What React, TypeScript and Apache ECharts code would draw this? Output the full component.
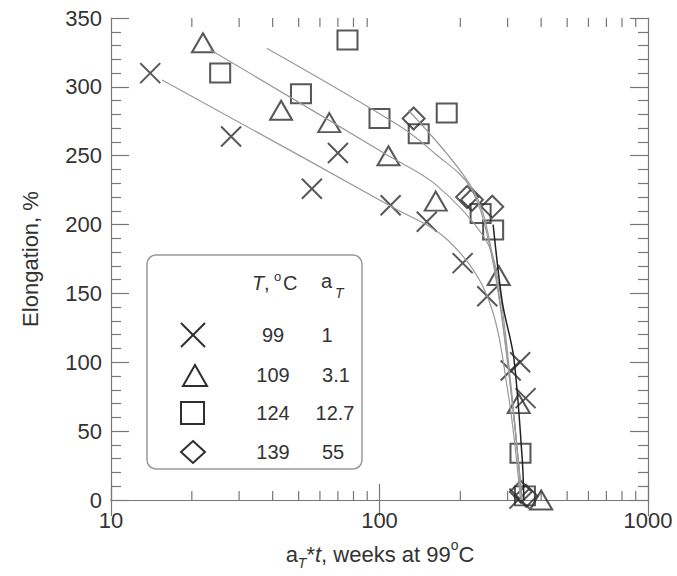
import React, { useEffect, useRef } from 'react';
import * as echarts from 'echarts';

// T = 99 °C (×)
const x99 = [14, 28, 56, 70, 110, 150, 204, 252, 308, 334, 350, 332];
const y99 = [310, 264, 226, 252, 214, 202, 172, 148, 94, 100, 74, 1];
// T = 109 °C (△)
const x109 = [22, 43, 65, 108, 162, 278, 330, 400];
const y109 = [332, 283, 274, 250, 217, 163, 70, 0];
// T = 124 °C (□)
const x124 = [25.5, 51, 76, 100, 140, 178, 238, 265, 335, 348];
const y124 = [310, 295, 334, 277, 266, 281, 208, 196, 34, 3];
// T = 139 °C (◇)
const x139 = [134, 212, 221, 263, 336, 352];
const y139 = [277, 220, 218, 213, 6, 3];

// fitted curves
const fitX99 = [15.5, 111, 179, 252, 300, 335];
const fitY99 = [305, 213, 189, 148, 80, 0];
const fitX109 = [23.4, 108, 162, 245, 275, 310, 338];
const fitY109 = [327, 250, 229, 191, 162, 80, 0];
const fitX124 = [38, 120, 160, 218, 260, 300, 340];
const fitY124 = [328, 271, 252, 227, 180, 100, 0];
const fitX139 = [128, 222, 262, 300, 340];
const fitY139 = [283, 226, 180, 100, 0];
const darkX = [265, 287, 316, 340, 345];
const darkY = [200, 143, 104, 30, 0];

const minorXTicks = [20, 30, 40, 50, 60, 70, 80, 90, 200, 300, 400, 500, 600, 700, 800, 900];

const legendRows = [
  { t: '99', a: '1', aX: 327 },
  { t: '109', a: '3.1', aX: 336 },
  { t: '124', a: '12.7', aX: 335 },
  { t: '139', a: '55', aX: 333 },
];

const zip = (xs: number[], ys: number[]) => xs.map((x, i) => [x, ys[i]]);

const FONT = 'Liberation Sans, Arial, Helvetica, sans-serif';
const MARK = '#2e2e2e';
const AXIS = '#777';
const TXT = '#333';

export default function App() {
  const ref = useRef<HTMLDivElement>(null);
  useEffect(() => {
    if (!ref.current) return;
    const chart = echarts.init(ref.current, undefined, { renderer: 'svg' });
    const markStyle = { color: 'transparent', borderColor: MARK, borderWidth: 2 };
    const fitStyle = { color: '#999', width: 1.2 };
    const grid = { left: 111, right: 29, top: 18, bottom: 76 };

    const xAxisBase = {
      type: 'log' as const,
      logBase: 10,
      min: 10,
      max: 1000,
      axisLine: { show: true, lineStyle: { color: AXIS, width: 1.2 } },
      axisTick: { show: true, inside: true, length: 16, lineStyle: { color: AXIS, width: 1.2 } },
      splitLine: { show: false },
      minorTick: { show: false },
    };
    const yAxisBase = {
      type: 'value' as const,
      min: 0,
      max: 350,
      interval: 50,
      axisLine: { show: true, lineStyle: { color: AXIS, width: 1.2 } },
      axisTick: { show: true, inside: true, length: 18, lineStyle: { color: AXIS, width: 1.2 } },
      minorTick: { show: true, splitNumber: 5, length: 10, lineStyle: { color: AXIS, width: 1.2 } },
      splitLine: { show: false },
    };

    const legendChildren: any[] = [
      {
        type: 'rect',
        shape: { x: 147, y: 255, width: 215, height: 214, r: 9 },
        style: { fill: 'none', stroke: '#999', lineWidth: 1.5 },
      },
      // header
      { type: 'text', x: 252, y: 283, style: { text: 'T', font: `italic 20px ${FONT}`, fill: TXT, verticalAlign: 'middle' } },
      { type: 'text', x: 264, y: 283, style: { text: ',', font: `20px ${FONT}`, fill: TXT, verticalAlign: 'middle' } },
      { type: 'text', x: 274, y: 276, style: { text: 'o', font: `13px ${FONT}`, fill: TXT, verticalAlign: 'middle' } },
      { type: 'text', x: 283, y: 283, style: { text: 'C', font: `20px ${FONT}`, fill: TXT, verticalAlign: 'middle' } },
      { type: 'text', x: 321, y: 281, style: { text: 'a', font: `20px ${FONT}`, fill: TXT, verticalAlign: 'middle' } },
      { type: 'text', x: 335, y: 293, style: { text: 'T', font: `italic 14px ${FONT}`, fill: TXT, verticalAlign: 'middle' } },
      // symbols
      { type: 'line', shape: { x1: 181, y1: 323, x2: 205, y2: 347 }, style: { stroke: MARK, lineWidth: 2 } },
      { type: 'line', shape: { x1: 205, y1: 323, x2: 181, y2: 347 }, style: { stroke: MARK, lineWidth: 2 } },
      { type: 'polygon', shape: { points: [[183, 386], [207, 386], [195, 365]] }, style: { fill: 'none', stroke: MARK, lineWidth: 2 } },
      { type: 'rect', shape: { x: 181, y: 402, width: 23, height: 22 }, style: { fill: 'none', stroke: MARK, lineWidth: 2 } },
      { type: 'polygon', shape: { points: [[193, 441], [205, 452], [193, 463], [181, 452]] }, style: { fill: 'none', stroke: MARK, lineWidth: 2 } },
    ];
    const rowY = [335, 375, 413, 452];
    legendRows.forEach((r, i) => {
      legendChildren.push({
        type: 'text', x: 273, y: rowY[i],
        style: { text: r.t, font: `20px ${FONT}`, fill: TXT, align: 'center', verticalAlign: 'middle' },
      });
      legendChildren.push({
        type: 'text', x: r.aX, y: rowY[i],
        style: { text: r.a, font: `20px ${FONT}`, fill: TXT, align: 'center', verticalAlign: 'middle' },
      });
    });

    chart.setOption({
      animation: false,
      backgroundColor: '#fff',
      grid,
      xAxis: [
        {
          ...xAxisBase,
          position: 'bottom',
          axisLabel: {
            show: true, fontSize: 22, color: TXT, fontFamily: FONT, margin: 9,
            formatter: (v: number) => String(Math.round(v)),
          },
        },
        { ...xAxisBase, position: 'top', axisLabel: { show: false } },
      ],
      yAxis: [
        {
          ...yAxisBase,
          position: 'left',
          axisLabel: { show: true, fontSize: 22, color: TXT, fontFamily: FONT, margin: 9 },
        },
        { ...yAxisBase, position: 'right', axisLabel: { show: false } },
      ],
      graphic: [
        {
          type: 'text',
          x: 30,
          y: 259,
          rotation: Math.PI / 2,
          style: { text: 'Elongation, %', font: `22px ${FONT}`, fill: TXT, align: 'center', verticalAlign: 'middle' },
        },
        {
          type: 'text',
          x: 380,
          y: 554,
          style: {
            text: 'a{sub|T}*{it|t}, weeks at 99{sup|o}C',
            fontSize: 22,
            fontFamily: FONT,
            fill: TXT,
            align: 'center',
            verticalAlign: 'middle',
            lineHeight: 32,
            rich: {
              sub: { fontSize: 14, fontStyle: 'italic', verticalAlign: 'bottom', lineHeight: 14, fill: TXT, fontFamily: FONT },
              sup: { fontSize: 14, verticalAlign: 'top', lineHeight: 14, fill: TXT, fontFamily: FONT },
              it: { fontSize: 22, fontStyle: 'italic', lineHeight: 32, fill: TXT, fontFamily: FONT },
            },
          },
        },
        { type: 'group', children: legendChildren },
      ],
      series: [
        {
          type: 'custom',
          xAxisIndex: 0,
          yAxisIndex: 0,
          silent: true,
          clip: false,
          data: minorXTicks.map((v) => [v, 0]),
          renderItem: (params: any, api: any) => {
            const v = api.value(0);
            const b = api.coord([v, 0]);
            const t = api.coord([v, 350]);
            const st = { stroke: AXIS, lineWidth: 1.2 };
            return {
              type: 'group',
              children: [
                { type: 'line', shape: { x1: b[0], y1: b[1], x2: b[0], y2: b[1] - 9 }, style: st },
                { type: 'line', shape: { x1: t[0], y1: t[1], x2: t[0], y2: t[1] + 9 }, style: st },
              ],
            };
          },
        },
        { type: 'line', smooth: 0.35, showSymbol: false, data: zip(fitX99, fitY99), lineStyle: fitStyle, silent: true },
        { type: 'line', smooth: 0.35, showSymbol: false, data: zip(fitX109, fitY109), lineStyle: fitStyle, silent: true },
        { type: 'line', smooth: 0.35, showSymbol: false, data: zip(fitX124, fitY124), lineStyle: fitStyle, silent: true },
        { type: 'line', smooth: 0.35, showSymbol: false, data: zip(fitX139, fitY139), lineStyle: fitStyle, silent: true },
        { type: 'line', smooth: 0.3, showSymbol: false, data: zip(darkX, darkY), lineStyle: { color: '#222', width: 1.5 }, silent: true },
        {
          type: 'scatter',
          symbol: 'path://M0,0L20,20M20,0L0,20',
          symbolSize: 20,
          data: zip(x99, y99),
          itemStyle: markStyle,
        },
        { type: 'scatter', symbol: 'triangle', symbolSize: [22, 19], data: zip(x109, y109), itemStyle: markStyle },
        { type: 'scatter', symbol: 'rect', symbolSize: [20, 19], data: zip(x124, y124), itemStyle: markStyle },
        { type: 'scatter', symbol: 'diamond', symbolSize: [22, 22], data: zip(x139, y139), itemStyle: markStyle },
      ],
    });
    return () => chart.dispose();
  }, []);
  return <div ref={ref} style={{ position: 'fixed', left: 0, top: 0, width: 677, height: 576 }} />;
}
